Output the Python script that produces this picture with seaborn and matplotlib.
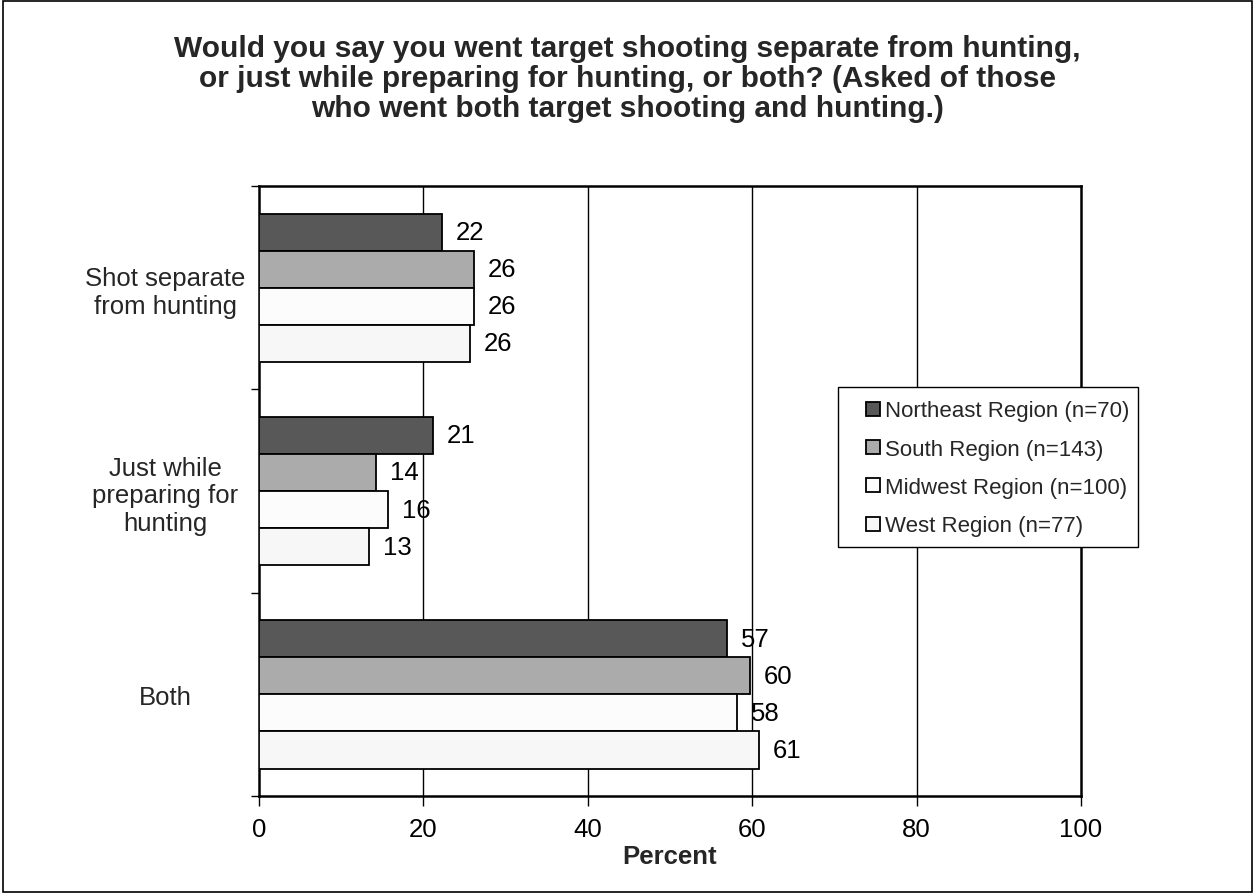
import matplotlib
matplotlib.use("Agg")
import matplotlib.pyplot as plt
import seaborn as sns
import pandas as pd
from matplotlib.ticker import FixedLocator
from matplotlib.patches import Rectangle

categories = ["Shot separate\nfrom hunting", "Just while\npreparing for\nhunting", "Both"]
regions = ["Northeast Region (n=70)", "South Region (n=143)", "Midwest Region (n=100)", "West Region (n=77)"]
northeast = [22.2, 21.2, 56.9]
south = [26.1, 14.2, 59.7]
midwest = [26.1, 15.7, 58.2]
west = [25.7, 13.4, 60.8]
labels = {
    regions[0]: ["22", "21", "57"],
    regions[1]: ["26", "14", "60"],
    regions[2]: ["26", "16", "58"],
    regions[3]: ["26", "13", "61"],
}
colors = ["#585858", "#ababab", "#fcfcfc", "#f7f7f7"]

rows = []
for reg, vals in zip(regions, [northeast, south, midwest, west]):
    for c, v in zip(categories, vals):
        rows.append({"Category": c, "Region": reg, "Percent": v})
df = pd.DataFrame(rows)

sns.set_theme(style="white")
plt.rcParams["font.family"] = ["Liberation Sans", "DejaVu Sans"]

FS = 18.5

fig = plt.figure(figsize=(12.55, 8.95), dpi=100)
ax = fig.add_axes([0.2064, 0.1095, 0.8614 - 0.2064, 0.791 - 0.1095])

sns.barplot(data=df, y="Category", x="Percent", hue="Region", order=categories,
            hue_order=regions, palette=colors, orient="h", width=0.73,
            edgecolor="black", linewidth=1.3, ax=ax, zorder=3, legend=True)

for cont, reg in zip(ax.containers, regions):
    ax.bar_label(cont, labels=labels[reg], padding=10, fontsize=FS, color="black")

ax.set_xlim(0, 100)
ax.set_ylim(2.5, -0.5)
ax.set_xticks([0, 20, 40, 60, 80, 100])
ax.tick_params(axis="x", labelsize=FS, length=7, direction="out", bottom=True, colors="black", pad=8, width=1)
ax.tick_params(axis="y", which="major", length=0, labelsize=FS, pad=0)
ax.yaxis.set_minor_locator(FixedLocator([-0.5, 0.5, 1.5, 2.5]))
ax.tick_params(axis="y", which="minor", length=6, direction="out", left=True, width=1, color="black")
for lab in ax.get_yticklabels():
    lab.set_horizontalalignment("center")
    lab.set_multialignment("center")
    lab.set_x(-0.114)
ax.grid(False)
for xv in [20, 40, 60, 80]:
    ax.axvline(xv, color="black", linewidth=1, zorder=1)
for sp in ax.spines.values():
    sp.set_color("black")
    sp.set_linewidth(1.8)

ax.set_ylabel("")
ax.set_xlabel("Percent", fontsize=FS, fontweight="bold", labelpad=2)

leg = ax.get_legend()
handles = leg.legend_handles
leg.remove()
# legend box frame
fig.patches.append(Rectangle((838 / 1255, 1 - 548 / 895), 300 / 1255, 160 / 895,
                             transform=fig.transFigure, facecolor="white",
                             edgecolor="black", linewidth=1, zorder=5))
lg = fig.legend(handles, regions, loc="upper left", bbox_to_anchor=(862 / 1255, 1 - 397 / 895),
                fontsize=16, frameon=False, handlelength=0.6, handleheight=0.6,
                handletextpad=0.25, labelspacing=0.78, borderpad=0.2, borderaxespad=0)
lg.set_zorder(6)

fig.text(0.5, 1 - 79 / 895,
         "Would you say you went target shooting separate from hunting,\nor just while preparing for hunting, or both? (Asked of those\nwho went both target shooting and hunting.)",
         ha="center", va="center", fontsize=21.5, fontweight="bold", linespacing=1.08)

fig.patches.append(Rectangle((0.002, 0.002), 0.996, 0.996, transform=fig.transFigure,
                             fill=False, edgecolor="black", linewidth=1.2))

fig.savefig("out.png", dpi=100, facecolor="white")
